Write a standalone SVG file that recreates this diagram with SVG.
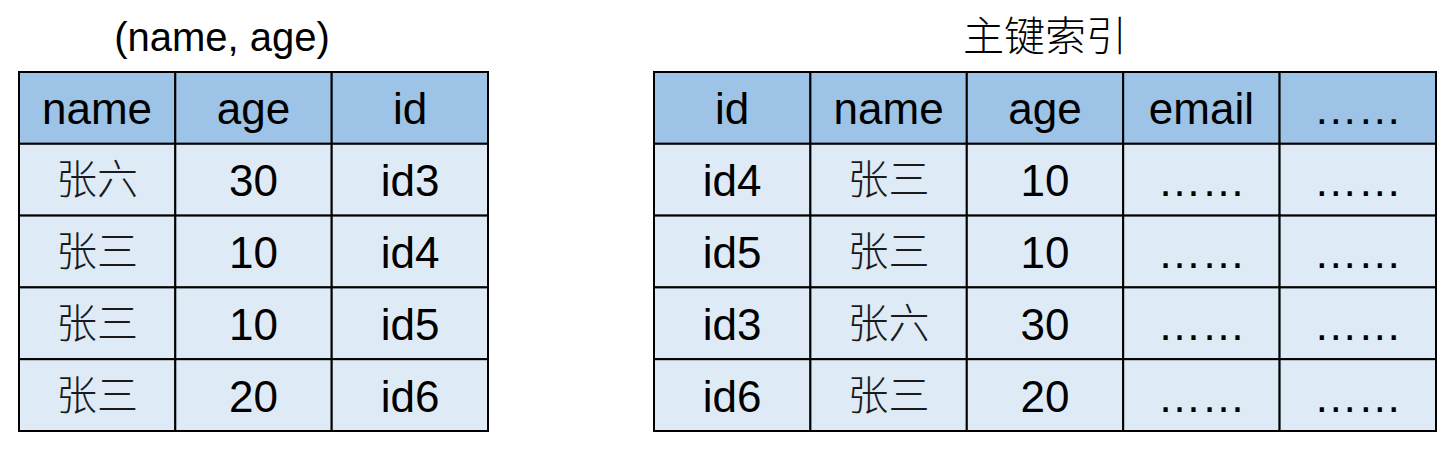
<svg xmlns="http://www.w3.org/2000/svg" width="1452" height="454" viewBox="0 0 1452 454">
<style>
.h{fill:#9DC3E6;stroke:#000;stroke-width:2}
.b{fill:#DEEBF7;stroke:#000;stroke-width:2}
.t{font-family:"Liberation Sans",Arial,sans-serif;font-size:44px;fill:#000;text-anchor:middle}
.c{font-family:"Noto Sans CJK SC",sans-serif;font-size:41px;fill:#1a1a1a;text-anchor:middle;font-weight:300}
.ti{font-family:"Liberation Sans",Arial,sans-serif;font-size:40px;fill:#000;text-anchor:middle}
.tc{font-family:"Noto Sans CJK SC",sans-serif;font-size:41px;fill:#000;text-anchor:middle;font-weight:300}
</style>
<g id="title-left"><text class="ti" x="222" y="51">(name, age)</text></g>
<g id="title-right"><text class="tc" x="1045" y="51">主键索引</text></g>
<g id="table-left">
<rect class="h" x="19" y="72" width="156.3" height="71.8"/>
<rect class="h" x="175.3" y="72" width="156.4" height="71.8"/>
<rect class="h" x="331.7" y="72" width="156.3" height="71.8"/>
<text class="t" x="97" y="124">name</text><text class="t" x="253.5" y="124">age</text><text class="t" x="410" y="124">id</text>
<rect class="b" x="19" y="143.8" width="156.3" height="71.8"/><rect class="b" x="175.3" y="143.8" width="156.4" height="71.8"/><rect class="b" x="331.7" y="143.8" width="156.3" height="71.8"/>
<text class="c" x="97" y="194">张六</text><text class="t" x="253.5" y="196">30</text><text class="t" x="410" y="196">id3</text>
<rect class="b" x="19" y="215.6" width="156.3" height="71.8"/><rect class="b" x="175.3" y="215.6" width="156.4" height="71.8"/><rect class="b" x="331.7" y="215.6" width="156.3" height="71.8"/>
<text class="c" x="97" y="266">张三</text><text class="t" x="253.5" y="268">10</text><text class="t" x="410" y="268">id4</text>
<rect class="b" x="19" y="287.4" width="156.3" height="71.8"/><rect class="b" x="175.3" y="287.4" width="156.4" height="71.8"/><rect class="b" x="331.7" y="287.4" width="156.3" height="71.8"/>
<text class="c" x="97" y="338">张三</text><text class="t" x="253.5" y="340">10</text><text class="t" x="410" y="340">id5</text>
<rect class="b" x="19" y="359.2" width="156.3" height="71.8"/><rect class="b" x="175.3" y="359.2" width="156.4" height="71.8"/><rect class="b" x="331.7" y="359.2" width="156.3" height="71.8"/>
<text class="c" x="97" y="410">张三</text><text class="t" x="253.5" y="412">20</text><text class="t" x="410" y="412">id6</text>
</g>
<g id="table-right">
<rect class="h" x="654" y="72" width="156.4" height="71.8"/><rect class="h" x="810.4" y="72" width="156.4" height="71.8"/><rect class="h" x="966.8" y="72" width="156.4" height="71.8"/><rect class="h" x="1123.2" y="72" width="156.4" height="71.8"/><rect class="h" x="1279.6" y="72" width="156.4" height="71.8"/>
<text class="t" x="732" y="124">id</text><text class="t" x="888.6" y="124">name</text><text class="t" x="1045" y="124">age</text><text class="t" x="1201.4" y="124">email</text><text class="t" x="1357.8" y="124">……</text>
<rect class="b" x="654" y="143.8" width="156.4" height="71.8"/><rect class="b" x="810.4" y="143.8" width="156.4" height="71.8"/><rect class="b" x="966.8" y="143.8" width="156.4" height="71.8"/><rect class="b" x="1123.2" y="143.8" width="156.4" height="71.8"/><rect class="b" x="1279.6" y="143.8" width="156.4" height="71.8"/>
<text class="t" x="732" y="196">id4</text><text class="c" x="888.6" y="194">张三</text><text class="t" x="1045" y="196">10</text><text class="t" x="1201.4" y="196">……</text><text class="t" x="1357.8" y="196">……</text>
<rect class="b" x="654" y="215.6" width="156.4" height="71.8"/><rect class="b" x="810.4" y="215.6" width="156.4" height="71.8"/><rect class="b" x="966.8" y="215.6" width="156.4" height="71.8"/><rect class="b" x="1123.2" y="215.6" width="156.4" height="71.8"/><rect class="b" x="1279.6" y="215.6" width="156.4" height="71.8"/>
<text class="t" x="732" y="268">id5</text><text class="c" x="888.6" y="266">张三</text><text class="t" x="1045" y="268">10</text><text class="t" x="1201.4" y="268">……</text><text class="t" x="1357.8" y="268">……</text>
<rect class="b" x="654" y="287.4" width="156.4" height="71.8"/><rect class="b" x="810.4" y="287.4" width="156.4" height="71.8"/><rect class="b" x="966.8" y="287.4" width="156.4" height="71.8"/><rect class="b" x="1123.2" y="287.4" width="156.4" height="71.8"/><rect class="b" x="1279.6" y="287.4" width="156.4" height="71.8"/>
<text class="t" x="732" y="340">id3</text><text class="c" x="888.6" y="338">张六</text><text class="t" x="1045" y="340">30</text><text class="t" x="1201.4" y="340">……</text><text class="t" x="1357.8" y="340">……</text>
<rect class="b" x="654" y="359.2" width="156.4" height="71.8"/><rect class="b" x="810.4" y="359.2" width="156.4" height="71.8"/><rect class="b" x="966.8" y="359.2" width="156.4" height="71.8"/><rect class="b" x="1123.2" y="359.2" width="156.4" height="71.8"/><rect class="b" x="1279.6" y="359.2" width="156.4" height="71.8"/>
<text class="t" x="732" y="412">id6</text><text class="c" x="888.6" y="410">张三</text><text class="t" x="1045" y="412">20</text><text class="t" x="1201.4" y="412">……</text><text class="t" x="1357.8" y="412">……</text>
</g>
<g id="connectors"></g>
</svg>
